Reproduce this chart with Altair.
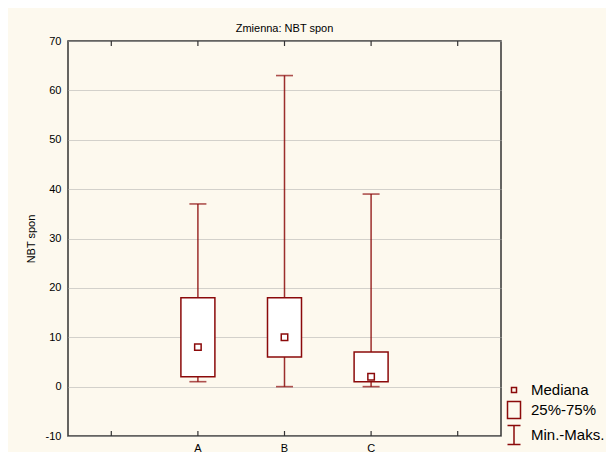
import altair as alt
import pandas as pd

categories = ["A", "B", "C"]
mins = [1, 0, 0]
q1s = [2, 6, 1]
medians = [8, 10, 2]
q3s = [18, 18, 7]
maxs = [37, 63, 39]

slots = ["_l", "A", "B", "C", "_r"]
y_ticks = [-10, 0, 10, 20, 30, 40, 50, 60, 70]

legend_items = ["Mediana", "25%-75%", "Min.-Maks."]
legend_shapes = [
    "M-0.25,-0.25H0.25V0.25H-0.25Z",
    "M-0.65,-0.85H0.65V0.85H-0.65Z",
    "M-0.65,-0.95H0.65M0,-0.95V0.95M-0.65,0.95H0.65",
]

df = pd.DataFrame({"cat": categories, "mn": mins, "q1": q1s, "med": medians,
                   "q3": q3s, "mx": maxs})
tick_df = pd.DataFrame({"slot": slots})
leg_df = pd.DataFrame({"item": legend_items})

RED = "#8b0a0a"
FONT = "Liberation Sans"

xscale = alt.Scale(domain=slots, paddingInner=0, paddingOuter=0)
yscale = alt.Scale(domain=[-10, 70], nice=False, zero=False)

x_enc = alt.X("cat:N", scale=xscale, title=None,
              axis=alt.Axis(labelExpr="indexof(['A','B','C'], datum.value) >= 0 ? datum.value : ''",
                            ticks=False, domain=False, labelFontSize=11,
                            labelFont=FONT, labelColor="#000", labelPadding=6,
                            labelAngle=0))
y_axis = alt.Axis(values=y_ticks, grid=True, gridDash=[1, 1], gridColor="#a8a8a8",
                  gridWidth=1, ticks=False, domain=False, labelFontSize=11,
                  labelFont=FONT, labelColor="#000", labelPadding=7,
                  labelExpr="toString(datum.value)",
                  title="NBT spon", titleFont=FONT, titleFontSize=11,
                  titleFontWeight="normal", titleColor="#000", titlePadding=9)

base = alt.Chart(df)

whisker = base.mark_rule(color=RED, strokeWidth=1.5, opacity=0.85).encode(
    x=x_enc,
    y=alt.Y("mn:Q", scale=yscale, axis=y_axis),
    y2="mx:Q",
)
caps_lo = base.mark_tick(color=RED, size=17, thickness=1.6, orient="horizontal").encode(
    x=alt.X("cat:N", scale=xscale), y=alt.Y("mn:Q", scale=yscale))
caps_hi = base.mark_tick(color=RED, size=17, thickness=1.6, orient="horizontal").encode(
    x=alt.X("cat:N", scale=xscale), y=alt.Y("mx:Q", scale=yscale))
box = base.mark_bar(size=34, fill="white", stroke=RED, strokeWidth=1.5).encode(
    x=alt.X("cat:N", scale=xscale), y=alt.Y("q1:Q", scale=yscale), y2="q3:Q")
med = base.mark_square(size=42, fill="white", stroke=RED, strokeWidth=1.5, opacity=1).encode(
    x=alt.X("cat:N", scale=xscale), y=alt.Y("med:Q", scale=yscale))

ticks_top = alt.Chart(tick_df).mark_rule(color="#333", strokeWidth=1.2).encode(
    x=alt.X("slot:N", scale=xscale), y=alt.value(0), y2=alt.value(5))
ticks_bot = alt.Chart(tick_df).mark_rule(color="#333", strokeWidth=1.2).encode(
    x=alt.X("slot:N", scale=xscale), y=alt.value(395), y2=alt.value(390))

legend = alt.Chart(leg_df).mark_point(filled=False, opacity=0, size=400).encode(
    shape=alt.Shape("item:N", scale=alt.Scale(domain=legend_items, range=legend_shapes),
                    legend=alt.Legend(title=None, orient="none", legendX=435, legendY=338,
                                      labelFontSize=15, labelFont=FONT, labelColor="#000",
                                      symbolStrokeColor=RED, symbolFillColor="white",
                                      symbolStrokeWidth=1.5, symbolOpacity=1,
                                      symbolSize=400, rowPadding=0, labelOffset=6)),
)

chart = alt.layer(whisker, caps_lo, caps_hi, box, med, ticks_top, ticks_bot, legend).properties(
    width=433, height=395,
    title=alt.Title("Zmienna: NBT spon", font=FONT, fontSize=11, fontWeight="normal",
                    color="#000", offset=1, anchor="middle"),
    autosize=alt.AutoSizeParams(type="none"),
    padding={"left": 60, "top": 33, "right": 105, "bottom": 16},
    background="#fdf9ee",
).configure_view(
    fill="white", stroke="#333", strokeWidth=1.5
)

chart.save("out.html", embed_options={"renderer": "svg", "actions": False})
